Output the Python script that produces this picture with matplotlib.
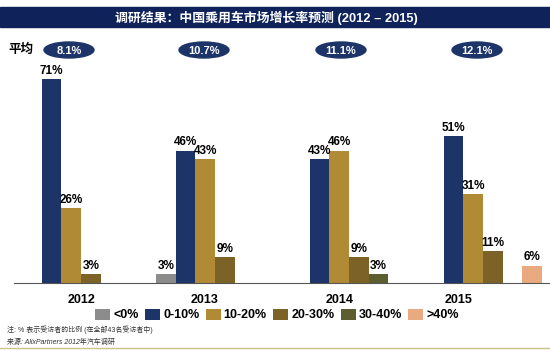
import matplotlib
matplotlib.use('Agg')
import matplotlib.pyplot as plt
from matplotlib.patches import Ellipse, Rectangle, Patch
import numpy as np

plt.rcParams['font.family'] = ['Liberation Sans', 'Noto Sans CJK SC', 'DejaVu Sans']

# data
years = ['2012', '2013', '2014', '2015']
averages = ['8.1%', '10.7%', '11.1%', '12.1%']
categories = ['<0%', '0-10%', '10-20%', '20-30%', '30-40%', '>40%']
lt0 = [0, 3, 0, 0]
p0_10 = [71, 46, 43, 51]
p10_20 = [26, 43, 46, 31]
p20_30 = [3, 9, 9, 11]
p30_40 = [0, 0, 3, 0]
gt40 = [0, 0, 0, 6]
series = [lt0, p0_10, p10_20, p20_30, p30_40, gt40]
colors = ['#8c8c8c', '#1d3469', '#b08a34', '#7d6228', '#5d5e2f', '#e9aa80']

title = '调研结果：中国乘用车市场增长率预测 (2012 – 2015)'
note = '注: % 表示受访者的比例 (在全部43名受访者中)'
source = '来源: AlixPartners 2012年汽车调研'

W, H = 550, 351
fig = plt.figure(figsize=(5.5, 3.51), dpi=100)

# overlay in pixel coords for header / footer decorations
ov = fig.add_axes([0, 0, 1, 1])
ov.set_xlim(0, W)
ov.set_ylim(H, 0)
ov.axis('off')
ov.add_patch(Rectangle((0, 7), W, 20, color='#0f2259'))
ov.text(266, 17.5, title, color='white', fontsize=9.3, fontweight='bold',
        ha='center', va='center')
ov.text(8, 50, '平均', fontsize=9, fontweight='bold', ha='left', va='center')
ell_x = [69, 204, 341, 477]
for x, a in zip(ell_x, averages):
    ov.add_patch(Ellipse((x, 50), 50, 16, color='#1d3469'))
    ov.text(x, 50.5, a, color='white', fontsize=8, fontweight='bold',
            ha='center', va='center')
ov.text(7, 330, note, fontsize=5, color='#333333', ha='left', va='center')
ov.text(7, 342, source, fontsize=5, color='#333333', style='italic',
        ha='left', va='center')
ov.plot([0, W], [348, 348], color='#c9c48a', lw=1)

# bar chart
ax = fig.add_axes([14 / W, 68 / H, 536 / W, 230 / H])
ax.patch.set_visible(False)
x = np.arange(len(years))
bw = 0.147
for k, (vals, c) in enumerate(zip(series, colors)):
    pos = x + (k - 2.5) * bw
    bars = ax.bar(pos, vals, width=bw, color=c, edgecolor='none')
    for b, v in zip(bars, vals):
        if v > 0:
            ax.text(b.get_x() + b.get_width() / 2, v + 0.8, f'{v}%',
                    ha='center', va='bottom', fontsize=8.5, fontweight='bold')

ax.set_xlim(-0.5, 3.5)
ax.set_ylim(0, 80)
for s in ['top', 'right', 'left']:
    ax.spines[s].set_visible(False)
ax.spines['bottom'].set_color('#555555')
ax.set_yticks([])
ax.set_xticks([0, 0.925, 1.93, 2.82])
ax.set_xticklabels(years, fontsize=9, fontweight='bold')
ax.tick_params(axis='x', length=0, pad=8)

handles = [Patch(facecolor=c, edgecolor='none') for c in colors]
fig.legend(handles, categories, loc='center', ncol=6,
           bbox_to_anchor=(277 / W, 1 - 315 / H), frameon=False,
           prop={'size': 9, 'weight': 'bold'}, handlelength=1.2,
           handleheight=1.0, handletextpad=0.25, columnspacing=0.5)

fig.savefig('out.png', dpi=100)
